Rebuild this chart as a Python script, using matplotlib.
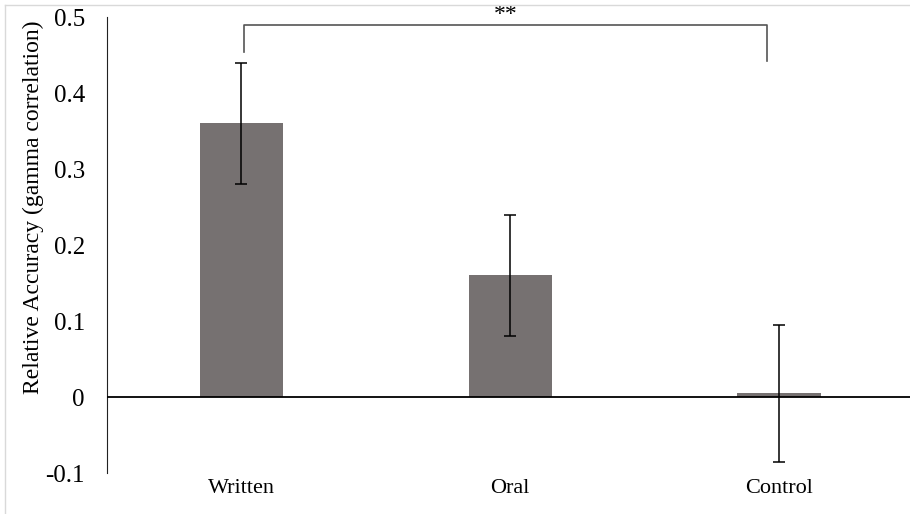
import matplotlib
matplotlib.use("Agg")
import matplotlib.pyplot as plt
from matplotlib.lines import Line2D

plt.rcParams['font.family'] = ['Liberation Serif', 'DejaVu Serif']

groups = ["Written", "Oral", "Control"]
accuracy = [0.36, 0.16, 0.005]
err_low = [0.28, 0.08, -0.085]
err_high = [0.44, 0.24, 0.095]
y_ticks = [-0.1, 0, 0.1, 0.2, 0.3, 0.4, 0.5]
y_tick_labels = ["-0.1", "0", "0.1", "0.2", "0.3", "0.4", "0.5"]

W, H = 910, 514
fig = plt.figure(figsize=(W / 100, H / 100), dpi=100)
ax = fig.add_axes([107 / W, (H - 473) / H, (W - 107) / W, (473 - 17) / H])

x = list(range(len(groups)))
yerr = [[a - lo for a, lo in zip(accuracy, err_low)],
        [hi - a for a, hi in zip(accuracy, err_high)]]
ax.bar(x, accuracy, width=0.31, color="#767171", zorder=2)
ax.errorbar(x, accuracy, yerr=yerr, fmt="none", ecolor="black",
            elinewidth=1.1, capsize=4, capthick=1.1, zorder=3)

ax.set_xlim(-0.5, 2.487)
ax.set_ylim(-0.1, 0.5)
ax.set_yticks(y_ticks)
ax.set_yticklabels(y_tick_labels, fontsize=18)
ax.tick_params(axis="y", length=0, pad=16)
ax.set_xticks(x)
ax.set_xticklabels(groups, fontsize=16)
ax.tick_params(axis="x", length=0, pad=4)
for sp in ["top", "right", "bottom"]:
    ax.spines[sp].set_visible(False)
ax.spines["left"].set_color("#222222")
ax.axhline(0, color="black", lw=1.3, zorder=4)

ax.set_ylabel("Relative Accuracy (gamma correlation)", fontsize=17)
ax.yaxis.set_label_coords(-(107 - 44) / (W - 107), (473 - 207) / (473 - 17))

# significance bracket Written vs Control
bx0, bx1 = 0.01, 1.955
ax.plot([bx0, bx0, bx1, bx1], [0.454, 0.489, 0.489, 0.442], color="#555555",
        lw=1.2, clip_on=False)
ax.text((bx0 + bx1) / 2, 0.503, "**", ha="center", va="center", fontsize=17)

# light frame around the chart (left and top edges visible)
fig.add_artist(Line2D([5 / W, 5 / W], [0, 1 - 5 / H], color="#d9d9d9", lw=1))
fig.add_artist(Line2D([5 / W, 1], [1 - 5 / H, 1 - 5 / H], color="#d9d9d9", lw=1))

fig.savefig("out.png", dpi=100)
